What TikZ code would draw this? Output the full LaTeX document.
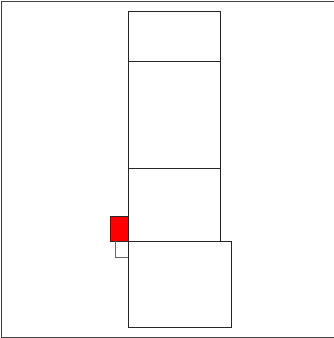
\documentclass[tikz,border=0pt]{standalone}
\begin{document}
\begin{tikzpicture}[x=1pt,y=-1pt,
  box/.style={draw=black!85,line width=0.8pt,inner sep=0pt,outer sep=0pt},
  frameline/.style={draw=black!75,line width=1pt}]
\useasboundingbox (0,0) rectangle (334,338);
\draw[frameline] (1,338) -- (1,1.5) -- (334,1.5);
\draw[frameline] (1,337) -- (334,337);
\node[box,minimum width=92pt,minimum height=50pt,anchor=north west] (top) at (128,11) {};
\node[box,minimum width=92pt,minimum height=107pt,anchor=north west] (mid) at (128,61) {};
\node[box,minimum width=92pt,minimum height=73pt,anchor=north west] (low) at (128,168) {};
\node[box,fill=white,minimum width=103pt,minimum height=86pt,anchor=north west] (base) at (128,241) {};
\node[box,fill=red,minimum width=18pt,minimum height=25pt,anchor=north west] (red) at (110,216) {};
\coordinate (c1) at (115,241);
\coordinate (c2) at (115,257.5);
\draw[draw=black!60,line width=0.8pt] (c1) -- (c2) -- (base.west |- c2);
\end{tikzpicture}
\end{document}
